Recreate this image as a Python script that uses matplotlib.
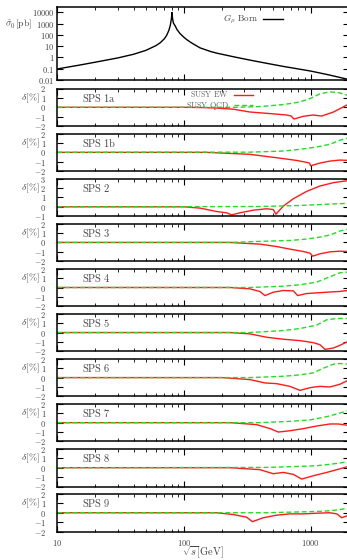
import matplotlib
matplotlib.use("Agg")
import matplotlib.pyplot as plt
from matplotlib.ticker import FixedLocator, NullLocator, LogLocator, NullFormatter

plt.rcParams['mathtext.fontset'] = 'cm'
plt.rcParams['font.family'] = ['DejaVu Serif']

TXT = '#444444'
RED = '#ff1a1a'
GREEN = '#22dd22'

# ---------------- data ----------------
x_born = [10, 15, 20, 30, 40, 50, 60, 65, 70, 73, 76, 78, 79.5, 80.4, 81.3, 82.5, 85, 88, 93,
          100, 105, 115, 134, 160, 181, 250, 331, 450, 608, 800, 1000, 1400, 2000]
sigma_born = [0.095, 0.21, 0.38, 0.9, 1.9, 4.2, 11, 20, 45, 90, 250, 700, 2500, 9500, 2600, 1100,
              650, 300, 130, 60, 38, 19, 7, 3.5, 2.4, 1.1, 0.58, 0.3, 0.16, 0.095, 0.062, 0.028, 0.011]

panel_names = ['SPS 1a', 'SPS 1b', 'SPS 2', 'SPS 3', 'SPS 4', 'SPS 5', 'SPS 6', 'SPS 7', 'SPS 8', 'SPS 9']

ew_x_1a = [10, 100, 134, 180, 245, 331, 450, 646, 700, 738, 873, 1047, 1221, 1515, 2000]
ew_y_1a = [0, 0, -0.02, -0.08, -0.2, -0.5, -0.64, -0.82, -0.92, -1.25, -0.96, -0.82, -0.93, -0.5, 0.35]
qcd_x_1a = [10, 250, 400, 608, 824, 989, 1183, 1418, 1652, 2000]
qcd_y_1a = [0, 0, 0.08, 0.29, 0.57, 0.93, 1.43, 1.64, 1.57, 1.25]

ew_x_1b = [10, 150, 331, 537, 776, 933, 980, 1000, 1183, 1418, 1700, 2000]
ew_y_1b = [0, 0, -0.21, -0.57, -0.86, -1.07, -1.15, -1.43, -1.14, -0.93, -0.82, -0.86]
qcd_x_1b = [10, 330, 608, 824, 1114, 1418, 1700, 2000]
qcd_y_1b = [0, 0.02, 0.14, 0.32, 0.57, 0.86, 1.29, 1.55]

ew_x_2 = [10, 100, 134, 181, 217, 238, 277, 352, 450, 507, 532, 608, 730, 930, 1183, 1515, 2000]
ew_y_2 = [0, 0, -0.14, -0.5, -0.64, -0.86, -0.64, -0.36, -0.21, -0.29, -0.79, 0.07, 0.86, 1.64, 2.21, 2.57, 2.8]
qcd_x_2 = [10, 400, 824, 1418, 2000]
qcd_y_2 = [0, 0.03, 0.14, 0.29, 0.37]

ew_x_3 = [10, 230, 398, 537, 686, 873, 989, 1038, 1183, 1418, 1700, 2000]
ew_y_3 = [0, 0, -0.18, -0.43, -0.71, -0.96, -1.14, -1.46, -1.21, -1.0, -0.93, -0.96]
qcd_x_3 = [10, 230, 450, 686, 930, 1183, 1418, 1700, 2000]
qcd_y_3 = [0, 0, 0.14, 0.21, 0.36, 0.57, 0.79, 1.21, 1.45]

ew_x_4 = [10, 230, 331, 398, 436, 507, 608, 730, 789, 930, 1183, 1418, 1700, 2000]
ew_y_4 = [0, 0, -0.14, -0.43, -0.86, -0.5, -0.32, -0.36, -0.86, -0.64, -0.55, -0.48, -0.42, -0.3]
qcd_x_4 = [10, 330, 608, 824, 1114, 1418, 1700, 2000]
qcd_y_4 = [0, 0, 0.14, 0.29, 0.57, 1.14, 1.57, 1.65]

ew_x_5 = [10, 230, 331, 450, 608, 824, 1047, 1183, 1297, 1515, 1700, 2000]
ew_y_5 = [0, 0, -0.14, -0.5, -0.71, -0.86, -1.07, -1.29, -1.79, -1.64, -1.36, -0.9]
qcd_x_5 = [10, 330, 608, 824, 1114, 1340, 1610, 2000]
qcd_y_5 = [0, 0, 0.21, 0.43, 0.79, 1.36, 1.5, 1.5]

ew_x_6 = [10, 200, 331, 436, 537, 686, 824, 989, 1183, 1418, 1700, 2000]
ew_y_6 = [0, 0, -0.21, -0.57, -0.64, -0.93, -1.36, -1.07, -0.93, -1.0, -0.71, -0.25]
qcd_x_6 = [10, 330, 608, 824, 1047, 1260, 1515, 1700, 2000]
qcd_y_6 = [0, 0, 0.14, 0.29, 0.5, 1.0, 1.43, 1.5, 1.43]

ew_x_7 = [10, 230, 375, 479, 556, 686, 873, 1114, 1418, 1650, 2000]
ew_y_7 = [0, 0, -0.21, -0.64, -1.0, -0.86, -0.64, -0.36, -0.14, -0.14, -0.3]
qcd_x_7 = [10, 400, 686, 989, 1340, 1610, 2000]
qcd_y_7 = [0, 0, 0.14, 0.29, 0.64, 0.93, 1.3]

ew_x_8 = [10, 230, 398, 507, 608, 730, 850, 1047, 1340, 1610, 2000]
ew_y_8 = [0, 0, -0.21, -0.64, -0.5, -0.71, -1.21, -0.86, -0.5, -0.21, 0.15]
qcd_x_8 = [10, 450, 824, 1114, 1418, 1700, 2000]
qcd_y_8 = [0, 0.03, 0.14, 0.21, 0.36, 0.5, 0.65]

ew_x_9 = [10, 180, 245, 312, 347, 423, 537, 686, 873, 1114, 1418, 1610, 1757, 2000]
ew_y_9 = [0, 0, -0.19, -0.47, -0.95, -0.53, -0.26, -0.12, -0.12, -0.05, 0, -0.12, -0.53, -0.26]
qcd_x_9 = [10, 450, 824, 1260, 1610, 2000]
qcd_y_9 = [0, 0, 0.09, 0.16, 0.29, 0.5]

ew_series = [(ew_x_1a, ew_y_1a), (ew_x_1b, ew_y_1b), (ew_x_2, ew_y_2), (ew_x_3, ew_y_3),
             (ew_x_4, ew_y_4), (ew_x_5, ew_y_5), (ew_x_6, ew_y_6), (ew_x_7, ew_y_7),
             (ew_x_8, ew_y_8), (ew_x_9, ew_y_9)]
qcd_series = [(qcd_x_1a, qcd_y_1a), (qcd_x_1b, qcd_y_1b), (qcd_x_2, qcd_y_2), (qcd_x_3, qcd_y_3),
              (qcd_x_4, qcd_y_4), (qcd_x_5, qcd_y_5), (qcd_x_6, qcd_y_6), (qcd_x_7, qcd_y_7),
              (qcd_x_8, qcd_y_8), (qcd_x_9, qcd_y_9)]

born_yticks = [0.01, 0.1, 1, 10, 100, 1000, 10000]
born_yticklabels = ['$0.01$', '$0.1$', '$1$', '$10$', '$100$', '$1000$', '$10000$']
x_ticks = [10, 100, 1000]
x_ticklabels = ['$10$', '$100$', '$1000$']

# ---------------- layout ----------------
W, H = 347.0, 560.0
fig = plt.figure(figsize=(W / 100, H / 100), dpi=100)
left_px, right_px = 57.3, 348.8
XMIN, XMAX = 10, 2000


def fx(px):
    return px / W


def style_axes(ax):
    ax.set_xscale('log')
    ax.set_xlim(XMIN, XMAX)
    ax.xaxis.set_major_locator(FixedLocator(x_ticks))
    ax.xaxis.set_minor_locator(LogLocator(base=10, subs=range(2, 10)))
    ax.xaxis.set_minor_formatter(NullFormatter())
    ax.tick_params(which='both', direction='in', top=True, right=True, colors='black',
                   labelcolor=TXT, labelsize=6)
    ax.tick_params(which='major', length=4.5, width=0.8)
    ax.tick_params(which='minor', length=2.3, width=0.6)
    for s in ax.spines.values():
        s.set_linewidth(1.1)


# top panel
top_t, top_b = 6.7, 80.0
ax0 = fig.add_axes([fx(left_px), 1 - top_b / H, (right_px - left_px) / W, (top_b - top_t) / H])
style_axes(ax0)
ax0.plot(x_born, sigma_born, color='black', lw=1.0, label=r'$G_\mu\ \mathrm{Born}$')
ax0.set_yscale('log')
ax0.set_ylim(0.01, 31000)
ax0.yaxis.set_major_locator(FixedLocator(born_yticks))
ax0.yaxis.set_minor_locator(NullLocator())
ax0.set_yticklabels(born_yticklabels)
ax0.tick_params(axis='y', pad=2)
ax0.set_xticklabels([])
ax0.legend(loc='upper right', bbox_to_anchor=(0.785, 0.96), frameon=False, fontsize=6.5,
           handlelength=2.2, markerfirst=False, borderaxespad=0, handletextpad=0.5,
           labelcolor=TXT)
fig.text(32 / W, 1 - 24 / H, r'$\hat{\sigma}_0[\mathrm{pb}]$', ha='right', va='center',
         fontsize=7, color=TXT)

# SPS panels
first_top = 88.5
step = 45.05
ph = 37.6
axes = []
for i, name in enumerate(panel_names):
    t = first_top + i * step
    ax = fig.add_axes([fx(left_px), 1 - (t + ph) / H, (right_px - left_px) / W, ph / H])
    style_axes(ax)
    ex, ey = ew_series[i]
    qx, qy = qcd_series[i]
    ax.plot(ex, ey, color=RED, lw=1.0, label=r'$\mathrm{SUSY\ EW}$')
    ax.plot(qx, qy, color=GREEN, lw=1.0, ls=(0, (3.5, 2.0)), label=r'$\mathrm{SUSY\ QCD}$')
    if name == 'SPS 2':
        lo, hi = -1, 3
    else:
        lo, hi = -2, 2
    ax.set_ylim(lo, hi)
    yt = list(range(lo, hi + 1))
    ax.yaxis.set_major_locator(FixedLocator(yt))
    ax.yaxis.set_minor_locator(NullLocator())
    ax.set_yticklabels([('$-%d$' % -v) if v < 0 else ('$%d$' % v) for v in yt])
    ax.tick_params(axis='y', pad=8)
    ax.text(0.085, 0.75, r'$\mathrm{%s}$' % name.replace(' ', r'\ '), transform=ax.transAxes,
            ha='left', va='center', fontsize=7.5, color=TXT)
    fig.text(40 / W, 1 - (t + ph * 0.25) / H, r'$\delta[\%]$', ha='right', va='center',
             fontsize=7, color=TXT)
    if i == len(panel_names) - 1:
        ax.set_xticklabels(x_ticklabels)
        ax.tick_params(axis='x', pad=5)
    else:
        ax.set_xticklabels([])
    if i == 0:
        ax.legend(loc='upper left', bbox_to_anchor=(0.43, 1.06), frameon=False, fontsize=5.8,
                  handlelength=2.4, markerfirst=False, borderaxespad=0, handletextpad=0.6,
                  labelspacing=0.05, labelcolor='#666666')
    axes.append(ax)

fig.text(203 / W, 1 - 553 / H, r'$\sqrt{s}[\mathrm{GeV}]$', ha='center', va='center',
         fontsize=7.5, color=TXT)

fig.savefig('out.png', dpi=100)
